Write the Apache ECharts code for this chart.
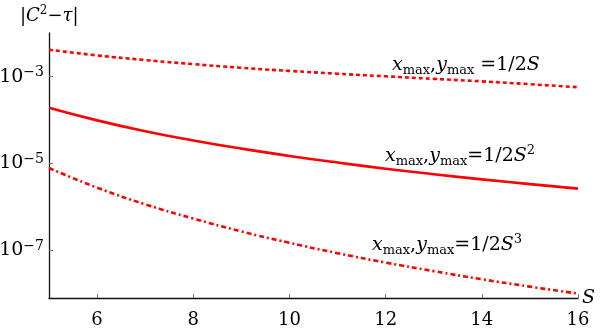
<!DOCTYPE html>
<html><head><meta charset="utf-8">
<script src="https://cdn.jsdelivr.net/npm/echarts@6/dist/echarts.min.js"></script>
<style>html,body{margin:0;padding:0;background:#fff}#c{width:600px;height:330px}</style>
</head><body><div id="c"></div>
<script>
// S values
const sValues = [5, 6, 7, 8, 9, 10, 11, 12, 13, 14, 15, 16];
// |C^2 - tau| for x_max, y_max = 1/2S
const errS1 = [4.2e-3, 3.1e-3, 2.42e-3, 1.95e-3, 1.6e-3, 1.36e-3, 1.17e-3, 1.02e-3, 8.9e-4, 7.8e-4, 6.7e-4, 5.7e-4];
// |C^2 - tau| for x_max, y_max = 1/2S^2
const errS2 = [1.92e-4, 9.8e-5, 5.5e-5, 3.37e-5, 2.18e-5, 1.48e-5, 1.04e-5, 7.5e-6, 5.6e-6, 4.26e-6, 3.3e-6, 2.6e-6];
// |C^2 - tau| for x_max, y_max = 1/2S^3
const errS3 = [7.8e-6, 2.74e-6, 1.13e-6, 5.3e-7, 2.67e-7, 1.46e-7, 8.4e-8, 5.1e-8, 3.24e-8, 2.1e-8, 1.42e-8, 9.8e-9];
// tick labels
const xTicks = [6, 8, 10, 12, 14, 16];
const yTicks = [1e-7, 1e-5, 1e-3];
const curveLabels = [
  '{i|x}{sub|max}{n|,}{i|y}{sub|max}{n| =1/2}{i|S}',
  '{i|x}{sub|max}{n|,}{i|y}{sub|max}{n|=1/2}{i|S}{sup|2}',
  '{i|x}{sub|max}{n|,}{i|y}{sub|max}{n|=1/2}{i|S}{sup|3}'
];
const yTitle = '|{i|C}{sup|2}−{i|τ}|';
const xName = 'S';

const FONT = '"DejaVu Serif", "Liberation Serif", serif';
const RED = '#ff0000';
const richMath = {
  i: {fontFamily: FONT, fontStyle: 'italic', fontSize: 19, lineHeight: 24, color: '#000'},
  n: {fontFamily: FONT, fontSize: 19, lineHeight: 24, color: '#000'},
  sub: {fontFamily: FONT, fontSize: 13, lineHeight: 13, verticalAlign: 'bottom', color: '#000'},
  sup: {fontFamily: FONT, fontSize: 13, lineHeight: 12, verticalAlign: 'top', color: '#000'}
};
const richTitle = {
  i: {fontFamily: FONT, fontStyle: 'italic', fontWeight: 'normal', fontSize: 18, lineHeight: 22, color: '#000'},
  sup: {fontFamily: FONT, fontWeight: 'normal', fontSize: 12, lineHeight: 12, verticalAlign: 'top', color: '#000'}
};

const chart = echarts.init(document.getElementById('c'), null, {renderer: 'canvas'});
const toPairs = arr => sValues.map((s, i) => [s, arr[i]]);

chart.setOption({
  animation: false,
  backgroundColor: '#fff',
  title: {text: yTitle, left: 20, top: 5, padding: 0,
          textStyle: {fontFamily: FONT, fontWeight: 'normal', fontSize: 18, lineHeight: 22, color: '#000', rich: richTitle}},
  grid: {left: 49, right: 22, top: 33, bottom: 32, containLabel: false, outerBoundsMode: 'none'},
  xAxis: {
    type: 'value', min: 5, max: 16,
    name: xName, nameLocation: 'end', nameGap: 4,
    nameTextStyle: {fontFamily: FONT, fontStyle: 'italic', fontSize: 19, color: '#000', verticalAlign: 'middle', padding: [4, 0, 0, 0]},
    axisLine: {show: true, onZero: false, lineStyle: {color: '#111', width: 1.3}},
    axisTick: {show: true, inside: true, length: 4, customValues: xTicks, lineStyle: {color: '#777'}},
    axisLabel: {customValues: xTicks, fontFamily: FONT, fontSize: 18, color: '#000', margin: 13},
    splitLine: {show: false}
  },
  yAxis: {
    type: 'log', logBase: 10, min: 7.76e-9, max: 1.02e-2,
    axisLine: {show: true, lineStyle: {color: '#111', width: 1.3}},
    axisTick: {show: true, inside: true, length: 4, customValues: yTicks, lineStyle: {color: '#777'}},
    axisLabel: {
      customValues: yTicks, margin: 5,
      formatter: v => '{b|10}{s|−' + Math.round(-Math.log10(v)) + '}',
      rich: {
        b: {fontFamily: FONT, fontSize: 19, lineHeight: 22, color: '#000'},
        s: {fontFamily: FONT, fontSize: 14, lineHeight: 14, verticalAlign: 'top', color: '#000'}
      }
    },
    splitLine: {show: false},
    minorTick: {show: false}
  },
  series: [
    {type: 'line', data: toPairs(errS1), smooth: true, showSymbol: false,
     lineStyle: {color: RED, width: 2.6, type: [4, 3]}},
    {type: 'line', data: toPairs(errS2), smooth: true, showSymbol: false,
     lineStyle: {color: RED, width: 2.6, type: 'solid'}},
    {type: 'line', data: toPairs(errS3), smooth: true, showSymbol: false,
     lineStyle: {color: RED, width: 2.6, type: [5, 3, 2, 3]}}
  ],
  graphic: [
    {type: 'text', x: 392, y: 65, style: {text: curveLabels[0], rich: richMath, verticalAlign: 'middle'}},
    {type: 'text', x: 385, y: 156, style: {text: curveLabels[1], rich: richMath, verticalAlign: 'middle'}},
    {type: 'text', x: 372, y: 245, style: {text: curveLabels[2], rich: richMath, verticalAlign: 'middle'}}
  ]
});
</script></body></html>
